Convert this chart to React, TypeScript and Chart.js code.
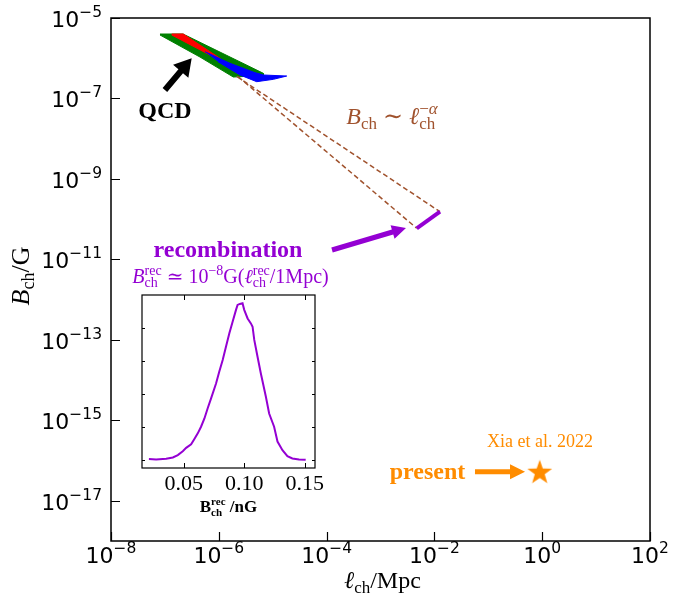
import React, { useEffect, useRef } from "react";
import { Chart, registerables } from "chart.js";
Chart.register(...registerables);

// ---------- data ----------
const xTicks = [1e-8, 1e-6, 1e-4, 1e-2, 1, 1e2];
const xTickExp = ["−8", "−6", "−4", "−2", "0", "2"];
const yTicks = [1e-5, 1e-7, 1e-9, 1e-11, 1e-13, 1e-15, 1e-17];
const yTickExp = ["−5", "−7", "−9", "−11", "−13", "−15", "−17"];

// QCD bands (ℓ_ch [Mpc], B_ch [G])
const greenX = [8.11e-8, 2.17e-7, 6.7e-6, 6.7e-6, 1.86e-6, 4.48e-7, 8.11e-8];
const greenY = [4.0e-6, 4.0e-6, 4.22e-7, 3.72e-7, 3.41e-7, 1.07e-6, 3.78e-6];
const redX = [1.34e-7, 2.19e-7, 1.05e-6, 1.21e-6, 1.34e-7];
const redY = [4.0e-6, 4.0e-6, 9.96e-7, 8.05e-7, 3.78e-6];
const blueX = [5.55e-7, 1.61e-6, 4.7e-6, 6.7e-6, 1.82e-5, 1.03e-5, 5.05e-6, 2.47e-6, 9.66e-7];
const blueY = [1.45e-6, 7.48e-7, 4.37e-7, 3.83e-7, 3.61e-7, 2.99e-7, 2.61e-7, 3.83e-7, 8.2e-7];

// power-law extrapolation (dashed) and recombination segment
const dashStartX = [2.15e-6, 2.3e-6];
const dashStartY = [3.52e-7, 3.45e-7];
const dashEndX = [1.27e-2, 4.7e-3];
const dashEndY = [1.53e-10, 5.93e-11];
const recX = [4.7e-3, 1.27e-2];
const recY = [5.93e-11, 1.53e-10];

// present day (Xia et al. 2022)
const presentX = [0.9];
const presentY = [5.27e-17];

// annotation arrows: [tailX, tailY, tipX, tipY]
const qcdArrow = [1.0e-7, 1.62e-7, 3.14e-7, 9.96e-7];
const recArrow = [1.26e-4, 1.71e-11, 2.97e-3, 6.03e-11];
const presentArrow = [0.0566, 5.27e-17, 0.48, 5.27e-17];

// inset distribution of B_ch^rec [nG]
const insetX = [0.0212, 0.0272, 0.0355, 0.041, 0.0451, 0.0492, 0.052, 0.0561, 0.0588, 0.0616, 0.0643, 0.0671, 0.0698, 0.0726, 0.0767, 0.0794, 0.0822, 0.0849, 0.0877, 0.0904, 0.0932, 0.0945, 0.0964, 0.0986, 0.1, 0.1028, 0.1055, 0.1069, 0.1083, 0.111, 0.1137, 0.1179, 0.1206, 0.1247, 0.1275, 0.1316, 0.1357, 0.1398, 0.1453, 0.1508];
const insetY = [0.03, 0.02, 0.04, 0.08, 0.15, 0.27, 0.37, 0.48, 0.64, 0.81, 1.01, 1.26, 1.57, 1.87, 2.32, 2.68, 3.03, 3.43, 3.84, 4.19, 4.55, 4.7, 4.73, 4.75, 4.55, 4.29, 4.14, 4.04, 3.64, 3.13, 2.63, 1.92, 1.41, 1.01, 0.56, 0.3, 0.12, 0.05, 0.02, 0.01];
const insetXTicks = [0.05, 0.1, 0.15];
const insetXTickLabels = ["0.05", "0.10", "0.15"];
const insetYTicks = [0, 1, 2, 3, 4];

// ---------- helpers ----------
const SERIF = "'Liberation Serif', 'DejaVu Serif', serif";
const SANS = "'DejaVu Sans', sans-serif";
const rm = (s: number) => `${s}px ${SERIF}`;
const it = (s: number) => `italic ${s}px ${SERIF}`;
const bf = (s: number) => `bold ${s}px ${SERIF}`;
const sans = (s: number) => `${s}px ${SANS}`;

type Run = { t: string; f: string; dy?: number; adv?: boolean };

function drawRuns(ctx: CanvasRenderingContext2D, runs: Run[], x: number, y: number, align: "left" | "center" | "right", color: string) {
  let cx = 0, maxX = 0;
  const pos: number[] = [];
  for (const r of runs) {
    ctx.font = r.f;
    const w = ctx.measureText(r.t).width;
    pos.push(cx);
    maxX = Math.max(maxX, cx + w);
    if (r.adv !== false) cx += w;
  }
  const width = Math.max(maxX, cx);
  const x0 = align === "center" ? x - width / 2 : align === "right" ? x - width : x;
  ctx.save();
  ctx.fillStyle = color;
  ctx.textBaseline = "alphabetic";
  ctx.textAlign = "left";
  runs.forEach((r, i) => {
    ctx.font = r.f;
    ctx.fillText(r.t, x0 + pos[i], y + (r.dy || 0));
  });
  ctx.restore();
}

function drawArrow(ctx: CanvasRenderingContext2D, x0: number, y0: number, x1: number, y1: number, shaft: number, headLen: number, headW: number, color: string) {
  const dx = x1 - x0, dy = y1 - y0;
  const L = Math.hypot(dx, dy);
  const ux = dx / L, uy = dy / L, nx = -uy, ny = ux;
  const bx = x1 - ux * headLen, by = y1 - uy * headLen;
  ctx.save();
  ctx.fillStyle = color;
  ctx.beginPath();
  ctx.moveTo(x0 + nx * shaft / 2, y0 + ny * shaft / 2);
  ctx.lineTo(bx + nx * shaft / 2, by + ny * shaft / 2);
  ctx.lineTo(bx + nx * headW / 2, by + ny * headW / 2);
  ctx.lineTo(x1, y1);
  ctx.lineTo(bx - nx * headW / 2, by - ny * headW / 2);
  ctx.lineTo(bx - nx * shaft / 2, by - ny * shaft / 2);
  ctx.lineTo(x0 - nx * shaft / 2, y0 - ny * shaft / 2);
  ctx.closePath();
  ctx.fill();
  ctx.restore();
}

function makeStar(r: number, color: string) {
  const s = Math.ceil(r * 2 + 2);
  const c = document.createElement("canvas");
  c.width = s;
  c.height = s;
  const g = c.getContext("2d")!;
  g.fillStyle = color;
  g.beginPath();
  for (let i = 0; i < 10; i++) {
    const a = -Math.PI / 2 + (i * Math.PI) / 5;
    const rr = i % 2 === 0 ? r : r * 0.4;
    const px = s / 2 + rr * Math.cos(a), py = s / 2 + 1 + rr * Math.sin(a);
    if (i === 0) g.moveTo(px, py);
    else g.lineTo(px, py);
  }
  g.closePath();
  g.fill();
  return c;
}

const pts = (xs: number[], ys: number[]) => xs.map((x, i) => ({ x, y: ys[i] }));

const BROWN = "#a0522d";
const VIOLET = "#9400d3";
const ORANGE = "#ff8c00";

const mainPlugin = {
  id: "mainDecor",
  beforeDraw(chart: any) {
    const ctx = chart.ctx;
    ctx.save();
    ctx.fillStyle = "#ffffff";
    ctx.fillRect(0, 0, chart.width, chart.height);
    ctx.restore();
  },
  afterDatasetsDraw(chart: any) {
    const ctx: CanvasRenderingContext2D = chart.ctx;
    const xs = chart.scales.x, ys = chart.scales.y;
    const a = chart.chartArea;
    const px = (v: number) => xs.getPixelForValue(v);
    const py = (v: number) => ys.getPixelForValue(v);

    // arrows
    drawArrow(ctx, px(qcdArrow[0]), py(qcdArrow[1]), px(qcdArrow[2]), py(qcdArrow[3]), 6, 17, 20, "#000");
    drawArrow(ctx, px(recArrow[0]), py(recArrow[1]), px(recArrow[2]), py(recArrow[3]), 5, 14, 14, VIOLET);
    drawArrow(ctx, px(presentArrow[0]), py(presentArrow[1]), px(presentArrow[2]), py(presentArrow[3]), 5, 15, 15, ORANGE);

    // frame
    ctx.save();
    ctx.strokeStyle = "#000";
    ctx.lineWidth = 1.5;
    ctx.strokeRect(a.left, a.top, a.right - a.left, a.bottom - a.top);
    ctx.lineWidth = 1.2;
    ctx.beginPath();
    xTicks.forEach((v) => {
      const x = Math.round(px(v)) + 0.5;
      ctx.moveTo(x, a.bottom);
      ctx.lineTo(x, a.bottom - 9);
    });
    yTicks.forEach((v) => {
      const y = Math.round(py(v)) + 0.5;
      ctx.moveTo(a.left, y);
      ctx.lineTo(a.left + 9, y);
    });
    ctx.stroke();
    ctx.restore();

    // tick labels
    xTicks.forEach((v, i) => {
      drawRuns(ctx, [{ t: "10", f: sans(22) }, { t: xTickExp[i], f: sans(15.5), dy: -10 }], px(v), a.bottom + 22, "center", "#000");
    });
    yTicks.forEach((v, i) => {
      drawRuns(ctx, [{ t: "10", f: sans(22) }, { t: yTickExp[i], f: sans(15.5), dy: -10 }], a.left - 9, py(v) + 9, "right", "#000");
    });

    // axis titles
    drawRuns(ctx, [{ t: "ℓ", f: it(24) }, { t: "ch", f: rm(17), dy: 5 }, { t: "/Mpc", f: rm(24) }], (a.left + a.right) / 2 + 2, 588, "center", "#000");
    ctx.save();
    ctx.translate(29, 276);
    ctx.rotate(-Math.PI / 2);
    drawRuns(ctx, [{ t: "B", f: it(26) }, { t: "ch", f: rm(18), dy: 5 }, { t: "/G", f: rm(26) }], 0, 0, "center", "#000");
    ctx.restore();

    // annotations
    drawRuns(ctx, [{ t: "QCD", f: bf(24) }], 165, 118, "center", "#000");
    drawRuns(
      ctx,
      [
        { t: "B", f: it(24) },
        { t: "ch", f: rm(17), dy: 5 },
        { t: " ∼ ", f: rm(24) },
        { t: "ℓ", f: it(24) },
        { t: "ch", f: rm(17), dy: 5, adv: false },
        { t: "−", f: rm(17), dy: -10 },
        { t: "α", f: it(17), dy: -10 },
      ],
      392,
      124,
      "center",
      BROWN
    );
    drawRuns(ctx, [{ t: "recombination", f: bf(24) }], 228, 257, "center", VIOLET);
    drawRuns(
      ctx,
      [
        { t: "B", f: it(20) },
        { t: "ch", f: rm(14), dy: 4, adv: false },
        { t: "rec", f: rm(14), dy: -8 },
        { t: " ≃ 10", f: rm(20) },
        { t: "−8", f: rm(14), dy: -8 },
        { t: "G(", f: rm(20) },
        { t: "ℓ", f: it(20) },
        { t: "ch", f: rm(14), dy: 4, adv: false },
        { t: "rec", f: rm(14), dy: -8 },
        { t: "/1Mpc)", f: rm(20) },
      ],
      230.5,
      283,
      "center",
      VIOLET
    );
    drawRuns(ctx, [{ t: "present", f: bf(24) }], 427.5, 479, "center", ORANGE);
    drawRuns(ctx, [{ t: "Xia et al. 2022", f: rm(18) }], 540, 447, "center", ORANGE);
  },
};

const insetPlugin = {
  id: "insetDecor",
  beforeDraw(chart: any) {
    const ctx = chart.ctx;
    const a = chart.chartArea;
    ctx.save();
    ctx.fillStyle = "#ffffff";
    ctx.fillRect(a.left, a.top, a.right - a.left, a.bottom - a.top);
    ctx.restore();
  },
  afterDatasetsDraw(chart: any) {
    const ctx: CanvasRenderingContext2D = chart.ctx;
    const xs = chart.scales.x, ys = chart.scales.y;
    const a = chart.chartArea;
    ctx.save();
    ctx.strokeStyle = "#000";
    ctx.lineWidth = 1.2;
    ctx.strokeRect(a.left, a.top, a.right - a.left, a.bottom - a.top);
    ctx.lineWidth = 1;
    ctx.beginPath();
    insetXTicks.forEach((v) => {
      const x = Math.round(xs.getPixelForValue(v)) + 0.5;
      ctx.moveTo(x, a.bottom);
      ctx.lineTo(x, a.bottom - 5);
      ctx.moveTo(x, a.top);
      ctx.lineTo(x, a.top + 5);
    });
    insetYTicks.forEach((v) => {
      const y = Math.round(ys.getPixelForValue(v)) + 0.5;
      ctx.moveTo(a.left, y);
      ctx.lineTo(a.left + 3, y);
      ctx.moveTo(a.right, y);
      ctx.lineTo(a.right - 3, y);
    });
    ctx.stroke();
    ctx.restore();
    insetXTicks.forEach((v, i) => {
      drawRuns(ctx, [{ t: insetXTickLabels[i], f: rm(22) }], xs.getPixelForValue(v), a.bottom + 22, "center", "#000");
    });
    drawRuns(
      ctx,
      [
        { t: "B", f: bf(17) },
        { t: "ch", f: bf(11), dy: 4, adv: false },
        { t: "rec", f: bf(11), dy: -7 },
        { t: " /nG", f: bf(17) },
      ],
      (a.left + a.right) / 2,
      a.bottom + 44,
      "center",
      "#000"
    );
  },
};

export default function App() {
  const mainRef = useRef<HTMLCanvasElement>(null);
  const insetRef = useRef<HTMLCanvasElement>(null);

  useEffect(() => {
    const star = makeStar(13, ORANGE);
    const poly = (xs: number[], ys: number[], color: string) => ({
      data: pts(xs, ys),
      showLine: true,
      fill: "shape",
      backgroundColor: color,
      borderColor: color,
      borderWidth: 1,
      pointRadius: 0,
      tension: 0,
    });
    const main = new Chart(mainRef.current!, {
      type: "scatter",
      data: {
        datasets: [
          { data: [{ x: presentX[0], y: presentY[0] }], pointStyle: star as any, pointRadius: 13, backgroundColor: ORANGE, borderColor: ORANGE },
          { data: pts(recX, recY), showLine: true, borderColor: VIOLET, borderWidth: 4, pointRadius: 0, borderCapStyle: "butt" },
          { data: [{ x: dashStartX[0], y: dashStartY[0] }, { x: dashEndX[0], y: dashEndY[0] }], showLine: true, borderColor: BROWN, borderWidth: 1.5, borderDash: [5, 3], pointRadius: 0 },
          { data: [{ x: dashStartX[1], y: dashStartY[1] }, { x: dashEndX[1], y: dashEndY[1] }], showLine: true, borderColor: BROWN, borderWidth: 1.5, borderDash: [5, 3], pointRadius: 0 },
          poly(blueX, blueY, "#0000ff"),
          poly(redX, redY, "#ff0000"),
          poly(greenX, greenY, "#008000"),
        ] as any,
      },
      options: {
        responsive: false,
        animation: false,
        events: [],
        layout: { padding: { left: 111, right: 35, top: 18, bottom: 55 } },
        scales: {
          x: { type: "logarithmic", min: 1e-8, max: 1e2, display: false },
          y: { type: "logarithmic", min: 1e-18, max: 1e-5, display: false },
        },
        plugins: { legend: { display: false }, tooltip: { enabled: false } },
      },
      plugins: [mainPlugin],
    });

    const inset = new Chart(insetRef.current!, {
      type: "line",
      data: {
        datasets: [
          { data: pts(insetX, insetY), borderColor: VIOLET, borderWidth: 2, pointRadius: 0, fill: false, tension: 0 },
        ] as any,
      },
      options: {
        responsive: false,
        animation: false,
        events: [],
        layout: { padding: { left: 22, right: 15, top: 10, bottom: 57 } },
        scales: {
          x: { type: "linear", min: 0.0155, max: 0.1585, display: false },
          y: { type: "linear", min: -0.24, max: 5.0, display: false },
        },
        plugins: { legend: { display: false }, tooltip: { enabled: false } },
      },
      plugins: [insetPlugin],
    });

    return () => {
      main.destroy();
      inset.destroy();
    };
  }, []);

  return (
    <div style={{ position: "absolute", left: 0, top: 0, width: 685, height: 596, background: "#fff" }}>
      <canvas ref={mainRef} width={685} height={596} style={{ position: "absolute", left: 0, top: 0 }} />
      <canvas ref={insetRef} width={210} height={240} style={{ position: "absolute", left: 120, top: 285 }} />
    </div>
  );
}
